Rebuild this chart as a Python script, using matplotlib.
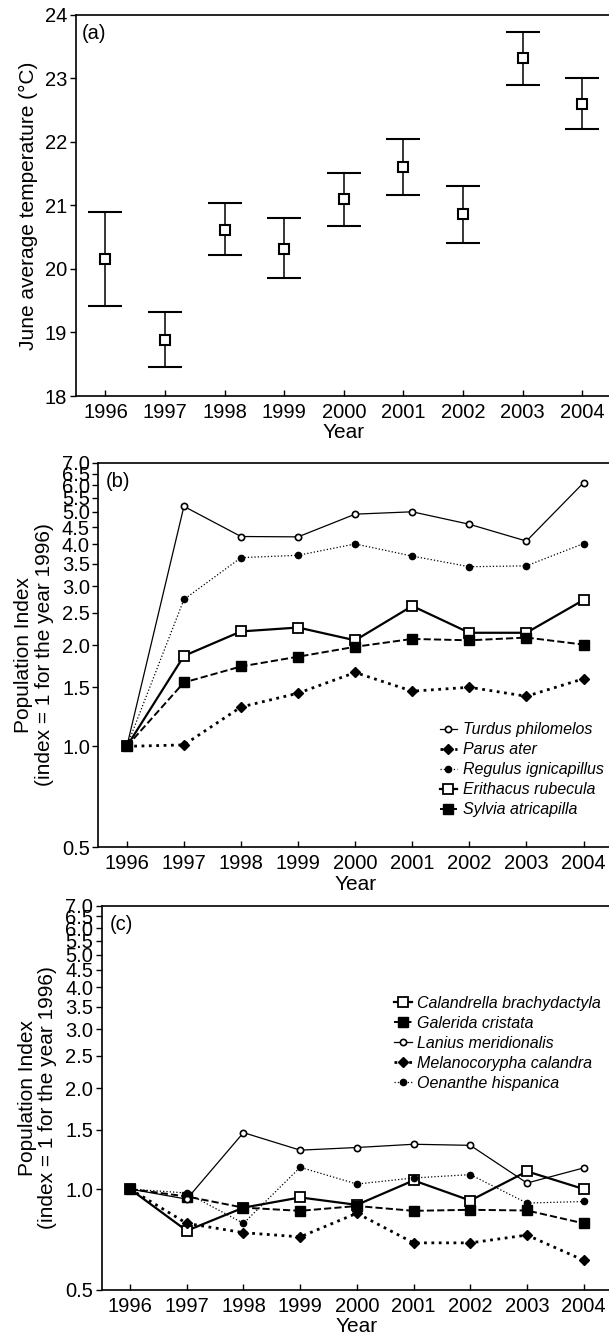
import matplotlib
matplotlib.use('Agg')
import matplotlib.pyplot as plt
from matplotlib.ticker import FixedLocator, FormatStrFormatter, NullLocator

plt.rcParams['font.family'] = ['Liberation Sans', 'DejaVu Sans']

# --------------------------------------------------------------------------
# Data
# --------------------------------------------------------------------------
years = [1996, 1997, 1998, 1999, 2000, 2001, 2002, 2003, 2004]

# (a) June average temperature, mean and error bar ends
temp_mean = [20.16, 18.88, 20.62, 20.32, 21.10, 21.60, 20.86, 23.32, 22.60]
temp_upper = [20.90, 19.33, 21.03, 20.80, 21.51, 22.05, 21.30, 23.73, 23.01]
temp_lower = [19.42, 18.45, 20.22, 19.86, 20.68, 21.16, 20.41, 22.90, 22.20]

# (b) forest species, population index (1996 = 1)
turdus = [1.0, 5.19, 4.22, 4.21, 4.92, 5.00, 4.59, 4.09, 6.10]
parus = [1.0, 1.01, 1.31, 1.44, 1.66, 1.46, 1.50, 1.41, 1.59]
regulus = [1.0, 2.74, 3.65, 3.71, 4.01, 3.69, 3.43, 3.45, 4.02]
erithacus = [1.0, 1.86, 2.20, 2.26, 2.07, 2.62, 2.18, 2.18, 2.73]
sylvia = [1.0, 1.55, 1.73, 1.85, 1.98, 2.09, 2.07, 2.11, 2.01]

# (c) open-habitat species, population index (1996 = 1)
calandrella = [1.0, 0.751, 0.88, 0.944, 0.897, 1.061, 0.924, 1.129, 1.0]
galerida = [1.0, 0.95, 0.88, 0.861, 0.89, 0.861, 0.867, 0.863, 0.79]
lanius = [1.0, 0.933, 1.473, 1.306, 1.33, 1.36, 1.35, 1.042, 1.156]
melanocorypha = [1.0, 0.79, 0.741, 0.72, 0.847, 0.691, 0.691, 0.729, 0.613]
oenanthe = [1.0, 0.973, 0.79, 1.161, 1.035, 1.079, 1.104, 0.908, 0.918]

index_ticks = [0.5, 1.0, 1.5, 2.0, 2.5, 3.0, 3.5, 4.0, 4.5, 5.0, 5.5, 6.0, 6.5, 7.0]

# --------------------------------------------------------------------------
# Figure
# --------------------------------------------------------------------------
fs_tick = 14.5
fs_label = 15
fs_leg = 11.5

fig = plt.figure(figsize=(6.09, 13.34), dpi=100)

ax_a = fig.add_axes([0.1243, 0.7031, 0.8807, 0.2859])
ax_b = fig.add_axes([0.1614, 0.3648, 0.8436, 0.2883])
ax_c = fig.add_axes([0.1670, 0.0330, 0.8380, 0.2881])


def style_axes(ax):
    ax.set_xlim(1995.5, 2004.5)
    ax.set_xticks(years)
    ax.set_xticklabels([str(y) for y in years])
    ax.tick_params(axis='x', direction='in', length=4, width=1,
                   labelsize=fs_tick, pad=5)
    ax.tick_params(axis='y', direction='out', length=4, width=1,
                   labelsize=fs_tick, pad=2)
    ax.spines['right'].set_visible(False)
    for s in ['left', 'top', 'bottom']:
        ax.spines[s].set_linewidth(1.2)
    ax.set_xlabel('Year', fontsize=fs_label, labelpad=1)


# ---- (a) temperature with error bars
yerr = [[m - lo for m, lo in zip(temp_mean, temp_lower)],
        [hi - m for m, hi in zip(temp_mean, temp_upper)]]
ax_a.errorbar(years, temp_mean, yerr=yerr, fmt='s', color='k',
              mfc='white', mec='k', mew=1.5, ms=6.5,
              ecolor='k', elinewidth=1.1, capsize=12.5, capthick=1.5)
style_axes(ax_a)
ax_a.set_ylim(18, 24)
ax_a.set_yticks([18, 19, 20, 21, 22, 23, 24])
ax_a.set_ylabel('June average temperature (\u00b0C)', fontsize=fs_label,
                labelpad=5)
ax_a.text(0.012, 0.975, '(a)', transform=ax_a.transAxes, fontsize=fs_tick,
          va='top', ha='left')


# ---- (b) and (c) population indices
def index_axes(ax, tag):
    style_axes(ax)
    ax.set_yscale('log')
    ax.set_ylim(0.5, 7.0)
    ax.yaxis.set_major_locator(FixedLocator(index_ticks))
    ax.yaxis.set_major_formatter(FormatStrFormatter('%.1f'))
    ax.yaxis.set_minor_locator(NullLocator())
    ax.set_ylabel('Population Index\n(index = 1 for the year 1996)',
                  fontsize=fs_label, labelpad=6, linespacing=1.1)
    ax.text(0.015, 0.975, tag, transform=ax.transAxes, fontsize=fs_tick,
            va='top', ha='left')


ax_b.plot(years, turdus, '-', color='k', lw=0.9, marker='o', ms=4.5,
          mfc='white', mew=1.2, label='Turdus philomelos')
ax_b.plot(years, parus, ':', color='k', lw=2.0, marker='D', ms=5,
          mfc='k', label='Parus ater')
ax_b.plot(years, regulus, ':', color='k', lw=0.9, marker='o', ms=4.5,
          mfc='k', label='Regulus ignicapillus')
ax_b.plot(years, erithacus, '-', color='k', lw=1.6, marker='s', ms=6.5,
          mfc='white', mew=1.3, label='Erithacus rubecula')
ax_b.plot(years, sylvia, '--', color='k', lw=1.4, marker='s', ms=6.5,
          mfc='k', label='Sylvia atricapilla')
index_axes(ax_b, '(b)')
ax_b.legend(loc='upper left', bbox_to_anchor=(0.722, 0.4585),
            bbox_transform=fig.transFigure, frameon=False,
            handlelength=1.1, handletextpad=0.35,
            labelspacing=0.31, borderpad=0, borderaxespad=0,
            prop={'style': 'italic', 'size': fs_leg})

ax_c.plot(years, calandrella, '-', color='k', lw=1.6, marker='s', ms=6.5,
          mfc='white', mew=1.3, label='Calandrella brachydactyla')
ax_c.plot(years, galerida, '--', color='k', lw=1.4, marker='s', ms=6.5,
          mfc='k', label='Galerida cristata')
ax_c.plot(years, lanius, '-', color='k', lw=0.9, marker='o', ms=4.5,
          mfc='white', mew=1.2, label='Lanius meridionalis')
ax_c.plot(years, melanocorypha, ':', color='k', lw=2.0, marker='D', ms=5,
          mfc='k', label='Melanocorypha calandra')
ax_c.plot(years, oenanthe, ':', color='k', lw=0.9, marker='o', ms=4.5,
          mfc='k', label='Oenanthe hispanica')
index_axes(ax_c, '(c)')
ax_c.legend(loc='upper left', bbox_to_anchor=(0.647, 0.2535),
            bbox_transform=fig.transFigure, frameon=False,
            handlelength=1.1, handletextpad=0.35,
            labelspacing=0.31, borderpad=0, borderaxespad=0,
            prop={'style': 'italic', 'size': fs_leg})

fig.savefig('out.png', dpi=100)
